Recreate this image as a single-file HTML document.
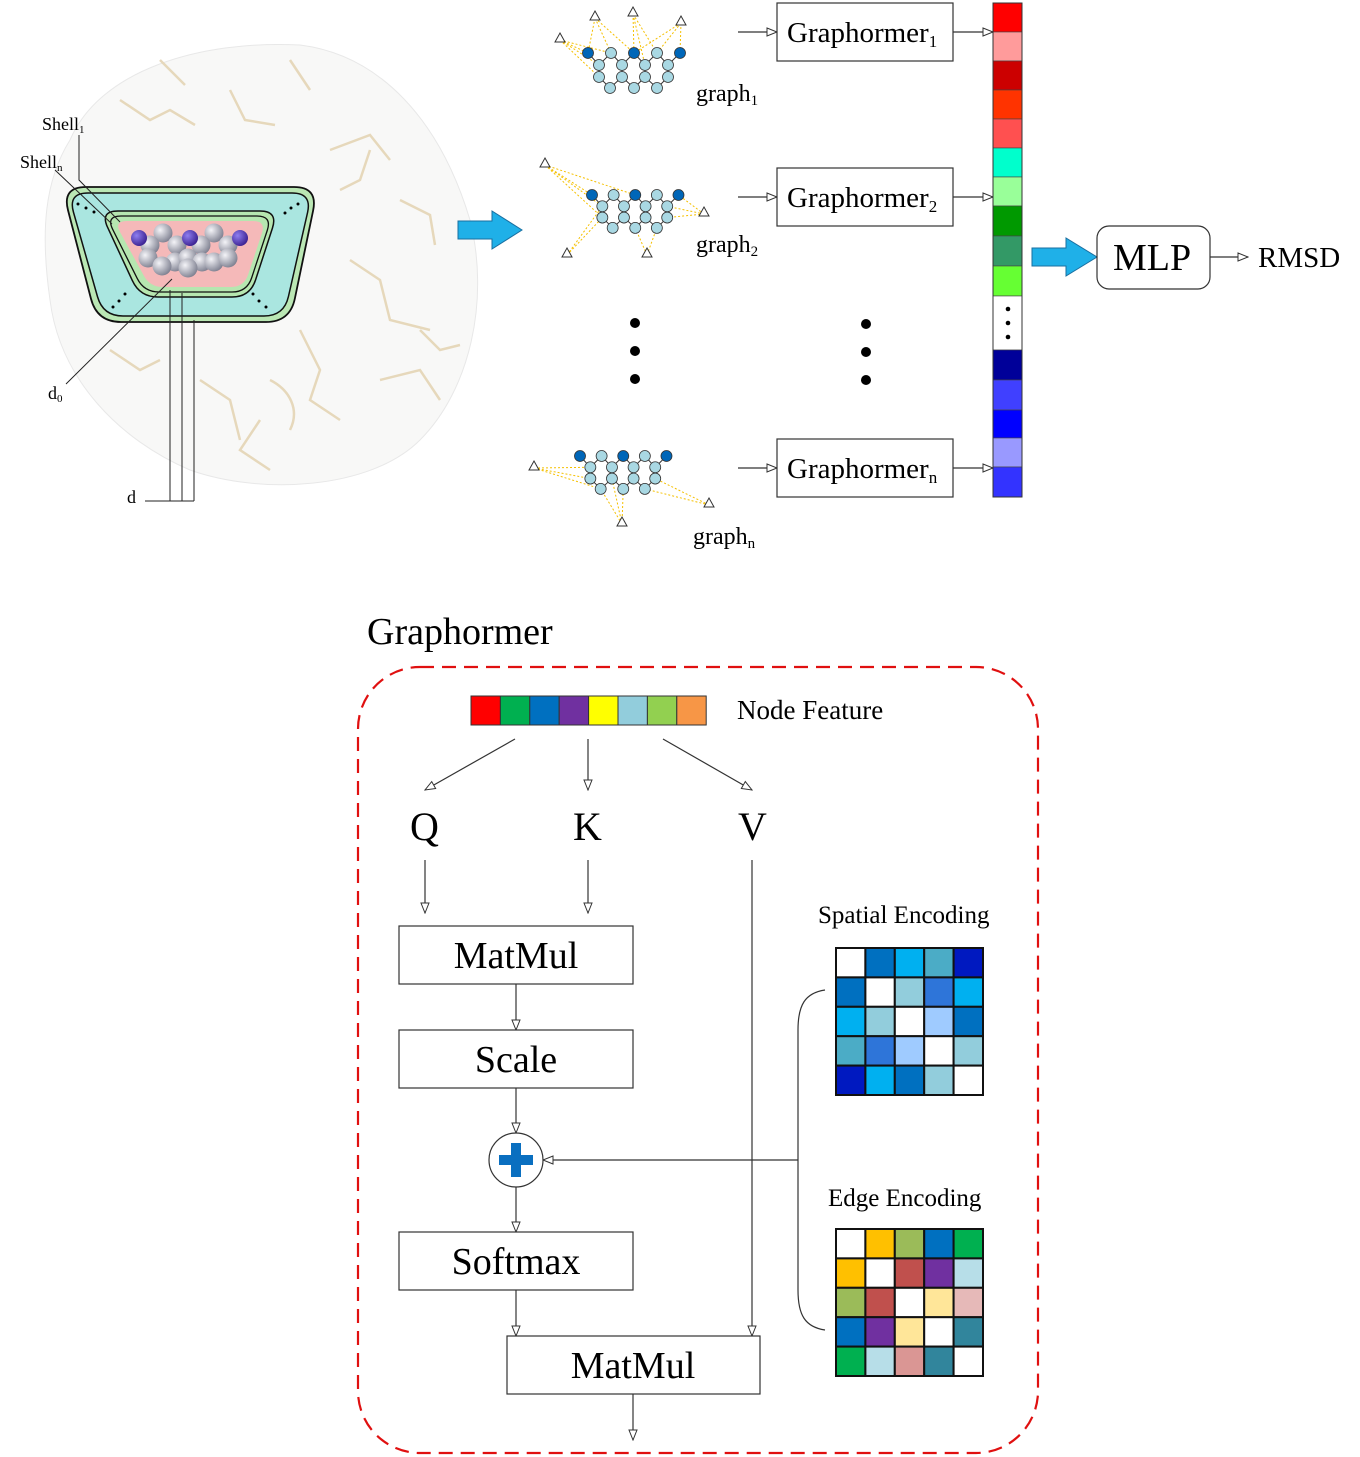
<!DOCTYPE html>
<html><head><meta charset="utf-8"><style>
html,body{margin:0;padding:0;background:#fff}
svg{display:block}
svg text{font-family:"Liberation Serif","Times New Roman",Times,serif !important;fill:#000}
</style></head><body>
<svg id="s" width="1360" height="1457" viewBox="0 0 1360 1457" xmlns="http://www.w3.org/2000/svg" font-family="Liberation Serif, Times New Roman, serif">
<defs>
<marker id="ah" markerWidth="12" markerHeight="10" refX="11" refY="5" orient="auto" markerUnits="userSpaceOnUse">
<path d="M1,1 L11,5 L1,9 Z" fill="#fff" stroke="#333" stroke-width="1"/></marker>
<radialGradient id="gs" cx="35%" cy="35%" r="70%"><stop offset="0" stop-color="#f4f4f8"/><stop offset="1" stop-color="#7e8090"/></radialGradient>
<radialGradient id="ps" cx="35%" cy="35%" r="70%"><stop offset="0" stop-color="#8f7ff0"/><stop offset="1" stop-color="#3a2090"/></radialGradient>
</defs>
<!-- protein background -->
<path d="M70,140 C100,70 200,40 300,45 C380,55 440,120 470,220 C490,300 470,390 420,440 C370,490 260,495 190,470 C120,440 60,380 50,300 C40,230 45,180 70,140Z" fill="#f8f8f7" stroke="#e8e8e8" stroke-width="1"/>
<g stroke="#e6d8bb" stroke-width="2.5" fill="none">
<path d="M120,100 l30,20 l20,-10 l25,15"/><path d="M230,90 l15,30 l30,5"/><path d="M330,150 l40,-15 l20,25"/>
<path d="M350,260 l30,20 l10,40 l40,10"/><path d="M300,330 l20,40 l-10,30 l30,20"/><path d="M200,380 l30,20 l10,40"/>
<path d="M110,350 l30,20 l20,-10"/><path d="M380,380 l40,-10 l20,30"/><path d="M260,420 l-20,30 l30,20"/>
<path d="M400,200 l30,15 l5,30"/><path d="M160,60 l25,25"/><path d="M290,60 l20,30"/><path d="M420,330 l20,20 l20,-5"/>
<path d="M270,380 c20,10 30,30 20,50"/><path d="M340,190 l20,-10 l10,-30"/>
</g>
<g id="shells"></g>
<g id="atoms"></g>
<g fill="#000"><circle cx="78" cy="204" r="1.5"/><circle cx="86" cy="208" r="1.5"/><circle cx="94" cy="212" r="1.5"/>
<circle cx="285" cy="213" r="1.5"/><circle cx="291" cy="208" r="1.5"/><circle cx="298" cy="204" r="1.5"/>
<circle cx="113" cy="307" r="1.5"/><circle cx="119" cy="301" r="1.5"/><circle cx="125" cy="294" r="1.5"/>
<circle cx="253" cy="294" r="1.5"/><circle cx="259" cy="301" r="1.5"/><circle cx="266" cy="307" r="1.5"/></g>
<g stroke="#222" stroke-width="1" fill="none">
<path d="M79,135 L79,180 L120,222"/><path d="M55,170 L112,224"/><path d="M66,384 L172,279"/>
<path d="M170,290 L170,501 M182,293 L182,501 M194,320 L194,501 M145,501 L194,501"/>
</g>
<text x="42" y="130" font-size="18">Shell<tspan font-size="11" dy="3">1</tspan></text>
<text x="20" y="168" font-size="18">Shell<tspan font-size="11" dy="3">n</tspan></text>
<text x="48" y="399" font-size="18">d<tspan font-size="11" dy="3">0</tspan></text>
<text x="127" y="503" font-size="18">d</text>
<!-- big arrows -->
<path d="M458,221 L492,221 L492,211 L522,230 L492,249 L492,239 L458,239 Z" fill="#1fb0e8" stroke="#1a6fa0" stroke-width="1"/>
<path d="M1032,248 L1066,248 L1066,238 L1097,257 L1066,276 L1066,266 L1032,266 Z" fill="#1fb0e8" stroke="#1a6fa0" stroke-width="1"/>
<g id="graphs"></g>
<text x="696" y="101" font-size="24">graph<tspan font-size="15" dy="4">1</tspan></text>
<text x="696" y="252" font-size="24">graph<tspan font-size="15" dy="4">2</tspan></text>
<text x="693" y="544" font-size="24">graph<tspan font-size="15" dy="4">n</tspan></text>
<g fill="#000"><circle cx="635" cy="323" r="5"/><circle cx="635" cy="351" r="5"/><circle cx="635" cy="379" r="5"/>
<circle cx="866" cy="324" r="5"/><circle cx="866" cy="352" r="5"/><circle cx="866" cy="380" r="5"/></g>
<g stroke="#333" stroke-width="1.2" fill="none">
<line x1="738" y1="32" x2="777" y2="32" marker-end="url(#ah)"/><line x1="738" y1="197" x2="777" y2="197" marker-end="url(#ah)"/><line x1="738" y1="468" x2="777" y2="468" marker-end="url(#ah)"/>
<line x1="953" y1="32" x2="993" y2="32" marker-end="url(#ah)"/><line x1="953" y1="197" x2="993" y2="197" marker-end="url(#ah)"/><line x1="953" y1="468" x2="993" y2="468" marker-end="url(#ah)"/>
<line x1="1210" y1="257" x2="1248" y2="257" marker-end="url(#ah)"/>
</g>
<g fill="#fff" stroke="#333" stroke-width="1.2">
<rect x="777" y="3" width="176" height="58"/><rect x="777" y="168" width="176" height="58"/><rect x="777" y="439" width="176" height="58"/>
<rect x="1097" y="226" width="113" height="63" rx="12"/></g>
<text x="787" y="42" font-size="29">Graphormer<tspan font-size="17" dy="5">1</tspan></text>
<text x="787" y="207" font-size="29">Graphormer<tspan font-size="17" dy="5">2</tspan></text>
<text x="787" y="478" font-size="29">Graphormer<tspan font-size="17" dy="5">n</tspan></text>
<text x="1113" y="270" font-size="38">MLP</text>
<text x="1258" y="267" font-size="29">RMSD</text>
<g id="bar"></g>
<!-- bottom -->
<text x="367" y="644" font-size="38">Graphormer</text>
<rect x="358" y="667" width="680" height="786" rx="62" fill="none" stroke="#e01010" stroke-width="2.2" stroke-dasharray="14,8"/>
<g id="nf"></g>
<text x="737" y="719" font-size="27">Node Feature</text>
<g stroke="#333" stroke-width="1.2" fill="none">
<line x1="515" y1="739" x2="425" y2="790" marker-end="url(#ah)"/><line x1="588" y1="739" x2="588" y2="790" marker-end="url(#ah)"/><line x1="663" y1="739" x2="752" y2="790" marker-end="url(#ah)"/>
<line x1="425" y1="860" x2="425" y2="913" marker-end="url(#ah)"/><line x1="588" y1="860" x2="588" y2="913" marker-end="url(#ah)"/>
<line x1="752" y1="860" x2="752" y2="1336" marker-end="url(#ah)"/>
<line x1="516" y1="984" x2="516" y2="1030" marker-end="url(#ah)"/><line x1="516" y1="1088" x2="516" y2="1133" marker-end="url(#ah)"/>
<line x1="516" y1="1187" x2="516" y2="1232" marker-end="url(#ah)"/><line x1="516" y1="1290" x2="516" y2="1336" marker-end="url(#ah)"/>
<line x1="633" y1="1394" x2="633" y2="1440" marker-end="url(#ah)"/>
<line x1="798" y1="1160" x2="543" y2="1160" marker-end="url(#ah)"/>
<path d="M825,990 C805,993 798,1005 798,1030 L798,1290 C798,1315 805,1327 825,1330"/>
</g>
<text x="410" y="840" font-size="40">Q</text><text x="573" y="840" font-size="40">K</text><text x="738" y="840" font-size="40">V</text>
<g fill="#fff" stroke="#333" stroke-width="1.2">
<rect x="399" y="926" width="234" height="58"/><rect x="399" y="1030" width="234" height="58"/>
<rect x="399" y="1232" width="234" height="58"/><rect x="507" y="1336" width="253" height="58"/>
<circle cx="516" cy="1160" r="27"/></g>
<path d="M511,1143 h10 v12 h12 v10 h-12 v12 h-10 v-12 h-12 v-10 h12 z" fill="#0a6fc0"/>
<g font-size="38" text-anchor="middle"><text x="516" y="968">MatMul</text><text x="516" y="1072">Scale</text><text x="516" y="1274">Softmax</text><text x="633" y="1378">MatMul</text></g>
<text x="818" y="923" font-size="25">Spatial Encoding</text>
<text x="828" y="1206" font-size="25">Edge Encoding</text>
<g id="mats"></g>
</svg>
<script>
const NS="http://www.w3.org/2000/svg";
function el(p,t,a){const e=document.createElementNS(NS,t);for(const k in a)e.setAttribute(k,a[k]);p.appendChild(e);return e;}
function rpoly(pts,r){
  let d="";const n=pts.length;
  for(let i=0;i<n;i++){
    const p=pts[i],a=pts[(i-1+n)%n],b=pts[(i+1)%n];
    const la=Math.hypot(a[0]-p[0],a[1]-p[1]),lb=Math.hypot(b[0]-p[0],b[1]-p[1]);
    const s=[p[0]+(a[0]-p[0])*r/la,p[1]+(a[1]-p[1])*r/la],e=[p[0]+(b[0]-p[0])*r/lb,p[1]+(b[1]-p[1])*r/lb];
    d+=(i?"L":"M")+s[0]+","+s[1]+" Q"+p[0]+","+p[1]+" "+e[0]+","+e[1]+" ";
  }
  return d+"Z";
}
function inset(pts,k){return [[pts[0][0]+k,pts[0][1]+k],[pts[1][0]-k,pts[1][1]+k],[pts[2][0]-k,pts[2][1]-k],[pts[3][0]+k,pts[3][1]-k]];}
const sh=document.getElementById('shells');
const O=[[62,187],[318,187],[290,322],[97,322]];
el(sh,'path',{d:rpoly(O,24),fill:'#b6e6b0',stroke:'#111','stroke-width':1.8,'fill-opacity':0.95});
el(sh,'path',{d:rpoly(inset(O,6),20),fill:'#a8e6e4',stroke:'#111','stroke-width':1.5,'fill-opacity':0.92});
const I=[[100,211],[278,211],[250,297],[140,297]];
el(sh,'path',{d:rpoly(I,18),fill:'#b6e6b0',stroke:'#111','stroke-width':1.5});
el(sh,'path',{d:rpoly([[106,216],[272,216],[247,292],[144,292]],15),fill:'none',stroke:'#111','stroke-width':1.3});
el(sh,'path',{d:rpoly([[114,221],[266,221],[244,287],[150,287]],13),fill:'#f5b9b9',stroke:'none'});
// atoms
const at=document.getElementById('atoms');
const grey=[[163,233],[214,233],[150,245],[177,245],[201,245],[228,245],[148,258],[175,262],[188,258],[202,262],[214,262],[228,258],[162,266],[188,268]];
grey.forEach(p=>el(at,'circle',{cx:p[0],cy:p[1],r:9.5,fill:'url(#gs)'}));
[[139,238],[190,238],[240,238]].forEach(p=>el(at,'circle',{cx:p[0],cy:p[1],r:8,fill:'url(#ps)'}));
// graphs
const g=document.getElementById('graphs');
const rel=[[0,0,1],[23,0,0],[46,0,1],[69,0,0],[92,0,1],[11,12,0],[34,12,0],[57,12,0],[80,12,0],[11,24,0],[34,24,0],[57,24,0],[80,24,0],[22,35,0],[46,35,0],[69,35,0]];
function graph(ox,oy,s,tris,links){
  const P=rel.map(r=>[ox+r[0]*s,oy+r[1]*s,r[2]]);
  tris.forEach((t,ti)=>links[ti].forEach(i=>el(g,'line',{x1:t[0],y1:t[1]+2,x2:P[i][0],y2:P[i][1],stroke:'#f5c000','stroke-width':1,'stroke-dasharray':'2,2'})));
  for(let i=0;i<P.length;i++)for(let j=i+1;j<P.length;j++){const d=Math.hypot(P[i][0]-P[j][0],P[i][1]-P[j][1]);if(d<17*s)el(g,'line',{x1:P[i][0],y1:P[i][1],x2:P[j][0],y2:P[j][1],stroke:'#333','stroke-width':1});}
  P.forEach(p=>el(g,'circle',{cx:p[0],cy:p[1],r:5.5,fill:p[2]?'#0066b8':'#a9d8e3',stroke:'#333','stroke-width':0.8}));
  tris.forEach(t=>el(g,'path',{d:`M${t[0]},${t[1]-5} L${t[0]+5},${t[1]+4} L${t[0]-5},${t[1]+4}Z`,fill:'#fff',stroke:'#333','stroke-width':1}));
}
graph(588,53,1,[[595,16],[633,12],[681,21],[560,38]],[[0,1,2],[2,3,7],[2,3,4],[0,1,9,5]]);
graph(592,195,0.94,[[545,163],[704,212],[567,253],[647,253]],[[0,2,5,9],[4,8,12],[9,5],[14,15]]);
graph(580,456,0.94,[[534,466],[709,503],[622,522]],[[5,9,13],[15,12],[13,14,10]]);
// bar
const b=document.getElementById('bar');
const bc=[['#ff0000',3,32],['#ff9b9b',32,61],['#cc0000',61,90],['#ff3300',90,119],['#ff5050',119,148],['#00ffcc',148,177],['#99ff99',177,206],['#009900',206,236],['#339966',236,266],['#66ff33',266,296],['#ffffff',296,350],['#000099',350,380],['#4040ff',380,410],['#0000ff',410,438],['#9999ff',438,467],['#3333ff',467,497]];
bc.forEach(c=>el(b,'rect',{x:993,y:c[1],width:29,height:c[2]-c[1],fill:c[0],stroke:'#444','stroke-width':0.6}));
[309,323,337].forEach(y=>el(b,'circle',{cx:1008,cy:y,r:2.3,fill:'#000'}));
el(b,'rect',{x:993,y:3,width:29,height:494,fill:'none',stroke:'#333','stroke-width':1});
// node feature
const nf=document.getElementById('nf');
['#ff0000','#00b050','#0070c0','#7030a0','#ffff00','#92cddc','#92d050','#f79646'].forEach((c,i)=>el(nf,'rect',{x:471+i*29.4,y:696,width:29.4,height:29,fill:c,stroke:'#333','stroke-width':1}));
// matrices
const m=document.getElementById('mats');
const S=[['#fff','#0070c0','#00b0f0','#4bacc6','#0019c0'],['#0070c0','#fff','#92cddc','#2e75d9','#00b0f0'],['#00b0f0','#92cddc','#fff','#9fcbff','#0070c0'],['#4bacc6','#2e75d9','#9fcbff','#fff','#92cddc'],['#0019c0','#00b0f0','#0070c0','#92cddc','#fff']];
const E=[['#fff','#ffc000','#9bbb59','#0070c0','#00b050'],['#ffc000','#fff','#c0504d','#7030a0','#b7dee8'],['#9bbb59','#c0504d','#fff','#ffe699','#e6b9b8'],['#0070c0','#7030a0','#ffe699','#fff','#31859c'],['#00b050','#b7dee8','#da9694','#31859c','#fff']];
function mat(M,x,y){M.forEach((r,i)=>r.forEach((c,j)=>el(m,'rect',{x:x+j*29.4,y:y+i*29.4,width:29.4,height:29.4,fill:c,stroke:'#111','stroke-width':2})));}
mat(S,836,948);mat(E,836,1229);
</script>
</body></html>
